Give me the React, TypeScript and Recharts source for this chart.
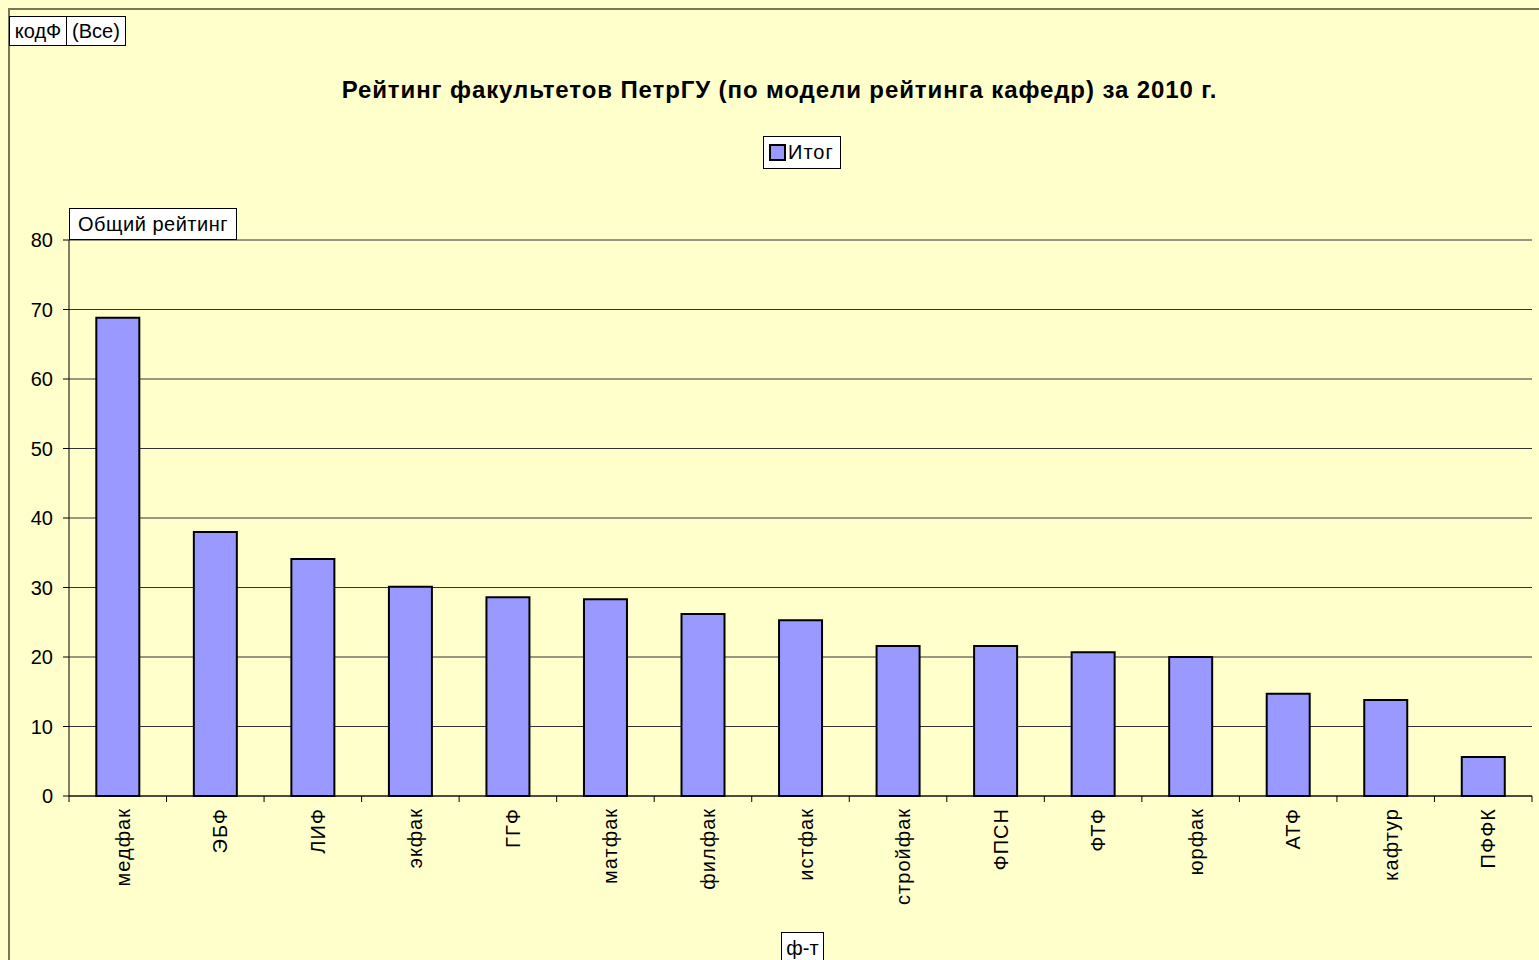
import React from 'react';
import { BarChart, Bar, XAxis, YAxis, CartesianGrid, Legend } from 'recharts';

const categories = ['медфак', 'ЭБФ', 'ЛИФ', 'экфак', 'ГГФ', 'матфак', 'филфак', 'истфак', 'стройфак', 'ФПСН', 'ФТФ', 'юрфак', 'АТФ', 'кафтур', 'ПФФК'];
const totals = [68.8, 38.0, 34.1, 30.1, 28.6, 28.3, 26.2, 25.3, 21.6, 21.6, 20.7, 20.0, 14.7, 13.8, 5.6];
const yTicks = [0, 10, 20, 30, 40, 50, 60, 70, 80];
const seriesName = 'Итог';
const titleText = 'Рейтинг факультетов ПетрГУ (по модели рейтинга кафедр) за 2010 г.';
const yAxisTitle = 'Общий рейтинг';
const xAxisTitle = 'ф-т';
const filterField = 'кодФ';
const filterValue = '(Все)';

const data = categories.map((c, i) => ({ name: c, total: totals[i] }));

const FONT = '"Liberation Sans", Arial, sans-serif';
const BG = '#FFFFCC';
const BAR = '#9999FF';

const XTick = (props: any) => {
  const { x, y, payload, width, visibleTicksCount, index } = props;
  const bw = width / visibleTicksCount;
  return (
    <g>
      <line x1={x - bw / 2} x2={x - bw / 2} y1={y} y2={y + 6} stroke="#000" strokeWidth={1} />
      {index === visibleTicksCount - 1 && (
        <line x1={x + bw / 2} x2={x + bw / 2} y1={y} y2={y + 6} stroke="#000" strokeWidth={1} />
      )}
      <text
        transform={`translate(${x + 5},${y + 12}) rotate(-90)`}
        textAnchor="end"
        dominantBaseline="central"
        fontSize={20}
        letterSpacing={1}
        fontFamily={FONT}
        fill="#000"
      >
        {payload.value}
      </text>
    </g>
  );
};

const LegendContent = () => (
  <div
    style={{
      width: 78,
      height: 33,
      background: '#fff',
      border: '1px solid #000',
      display: 'flex',
      alignItems: 'center',
      boxSizing: 'border-box',
      paddingLeft: 5,
      fontFamily: FONT,
      fontSize: 20,
      letterSpacing: 1,
      color: '#000',
    }}
  >
    <span style={{ width: 13, height: 13, background: BAR, border: '2px solid #000', display: 'inline-block', marginRight: 2 }} />
    <span>{seriesName}</span>
  </div>
);

const boxStyle: React.CSSProperties = {
  position: 'absolute',
  background: '#fff',
  border: '1px solid #000',
  fontFamily: FONT,
  fontSize: 20,
  color: '#000',
  boxSizing: 'border-box',
  display: 'flex',
  alignItems: 'center',
  justifyContent: 'center',
  whiteSpace: 'nowrap',
};

export default function App() {
  return (
    <div style={{ position: 'fixed', left: 0, top: 0, width: 1539, height: 960, background: BG, overflow: 'hidden' }}>
      <div
        style={{
          position: 'absolute',
          left: 8,
          top: 8,
          width: 1600,
          height: 1000,
          borderTop: '2px solid #77775a',
          borderLeft: '2px solid #77775a',
        }}
      />
      <div style={{ position: 'absolute', left: 0, top: 0 }}>
        <BarChart
          width={1539}
          height={960}
          data={data}
          margin={{ top: 240, right: 7, bottom: 0, left: 9 }}
          barCategoryGap="28%"
        >
          <CartesianGrid vertical={false} stroke="#333" strokeWidth={1} />
          <XAxis
            dataKey="name"
            height={164}
            interval={0}
            tickLine={false}
            tickSize={0}
            tickMargin={0}
            axisLine={{ stroke: '#000', strokeWidth: 1 }}
            tick={<XTick />}
          />
          <YAxis
            width={60}
            domain={[0, 80]}
            ticks={yTicks}
            tickSize={6}
            tickMargin={10}
            tickLine={{ stroke: '#000' }}
            axisLine={{ stroke: '#000' }}
            tick={{ fontSize: 20, fontFamily: FONT, fill: '#000' }}
          />
          <YAxis
            yAxisId="r"
            orientation="right"
            width={0}
            domain={[0, 80]}
            tick={false}
            tickLine={false}
            axisLine={{ stroke: '#333' }}
          />
          <Legend
            layout="vertical"
            align="center"
            verticalAlign="middle"
            content={<LegendContent />}
            wrapperStyle={{ position: 'absolute', left: 763, top: 136, width: 78, height: 33 }}
          />
          <Bar dataKey="total" name={seriesName} fill={BAR} stroke="#000" strokeWidth={2} isAnimationActive={false} />
        </BarChart>
      </div>
      <div
        style={{
          position: 'absolute',
          left: 0,
          width: 1539,
          top: 76,
          textAlign: 'center',
          fontFamily: FONT,
          fontWeight: 'bold',
          fontSize: 24,
          letterSpacing: 0.9,
          color: '#000',
          paddingLeft: 20,
          boxSizing: 'border-box',
        }}
      >
        {titleText}
      </div>
      <div style={{ ...boxStyle, left: 9, top: 16, width: 58, height: 30 }}>{filterField}</div>
      <div style={{ ...boxStyle, left: 66, top: 16, width: 60, height: 30 }}>{filterValue}</div>
      <div style={{ ...boxStyle, left: 69, top: 208, width: 168, height: 32, letterSpacing: 0.5 }}>{yAxisTitle}</div>
      <div style={{ ...boxStyle, left: 781, top: 932, width: 43, height: 32 }}>{xAxisTitle}</div>
    </div>
  );
}
